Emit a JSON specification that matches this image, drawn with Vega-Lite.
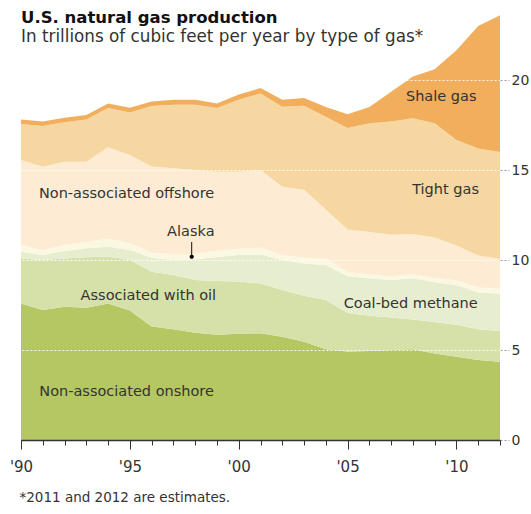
{
  "$schema": "https://vega.github.io/schema/vega-lite/v6.json",
  "width": 479,
  "height": 432,
  "autosize": {"type": "none"},
  "padding": {"left": 21, "top": 8, "right": 31, "bottom": 74},
  "background": "white",
  "title": {
    "text": "U.S. natural gas production",
    "subtitle": "In trillions of cubic feet per year by type of gas*",
    "anchor": "start",
    "frame": "group",
    "offset": -38,
    "font": "DejaVu Sans",
    "fontSize": 16.5,
    "fontWeight": "bold",
    "color": "#111",
    "subtitleFont": "DejaVu Sans",
    "subtitleFontSize": 16.8,
    "subtitleColor": "#333",
    "subtitlePadding": 3
  },
  "datasets": {
    "production": [
      {"year": 1990, "Non-associated onshore": 7.59, "Associated with oil": 2.50, "Coal-bed methane": 0.37, "Alaska": 0.37, "Non-associated offshore": 4.73, "Tight gas": 1.99, "Shale gas": 0.25},
      {"year": 1991, "Non-associated onshore": 7.22, "Associated with oil": 2.78, "Coal-bed methane": 0.28, "Alaska": 0.28, "Non-associated offshore": 4.62, "Tight gas": 2.27, "Shale gas": 0.25},
      {"year": 1992, "Non-associated onshore": 7.40, "Associated with oil": 2.69, "Coal-bed methane": 0.41, "Alaska": 0.33, "Non-associated offshore": 4.63, "Tight gas": 2.19, "Shale gas": 0.25},
      {"year": 1993, "Non-associated onshore": 7.35, "Associated with oil": 2.80, "Coal-bed methane": 0.50, "Alaska": 0.35, "Non-associated offshore": 4.46, "Tight gas": 2.34, "Shale gas": 0.26},
      {"year": 1994, "Non-associated onshore": 7.59, "Associated with oil": 2.61, "Coal-bed methane": 0.54, "Alaska": 0.46, "Non-associated offshore": 5.06, "Tight gas": 2.19, "Shale gas": 0.25},
      {"year": 1995, "Non-associated onshore": 7.20, "Associated with oil": 2.80, "Coal-bed methane": 0.56, "Alaska": 0.37, "Non-associated offshore": 4.90, "Tight gas": 2.37, "Shale gas": 0.26},
      {"year": 1996, "Non-associated onshore": 6.30, "Associated with oil": 3.05, "Coal-bed methane": 0.77, "Alaska": 0.30, "Non-associated offshore": 4.77, "Tight gas": 3.36, "Shale gas": 0.25},
      {"year": 1997, "Non-associated onshore": 6.15, "Associated with oil": 3.02, "Coal-bed methane": 0.83, "Alaska": 0.30, "Non-associated offshore": 4.80, "Tight gas": 3.53, "Shale gas": 0.27},
      {"year": 1998, "Non-associated onshore": 5.96, "Associated with oil": 2.93, "Coal-bed methane": 1.15, "Alaska": 0.31, "Non-associated offshore": 4.65, "Tight gas": 3.63, "Shale gas": 0.27},
      {"year": 1999, "Non-associated onshore": 5.85, "Associated with oil": 2.98, "Coal-bed methane": 1.34, "Alaska": 0.35, "Non-associated offshore": 4.38, "Tight gas": 3.55, "Shale gas": 0.25},
      {"year": 2000, "Non-associated onshore": 5.90, "Associated with oil": 2.90, "Coal-bed methane": 1.48, "Alaska": 0.35, "Non-associated offshore": 4.27, "Tight gas": 4.00, "Shale gas": 0.30},
      {"year": 2001, "Non-associated onshore": 5.93, "Associated with oil": 2.77, "Coal-bed methane": 1.61, "Alaska": 0.38, "Non-associated offshore": 4.31, "Tight gas": 4.25, "Shale gas": 0.30},
      {"year": 2002, "Non-associated onshore": 5.74, "Associated with oil": 2.59, "Coal-bed methane": 1.67, "Alaska": 0.28, "Non-associated offshore": 3.79, "Tight gas": 4.45, "Shale gas": 0.38},
      {"year": 2003, "Non-associated onshore": 5.46, "Associated with oil": 2.56, "Coal-bed methane": 1.79, "Alaska": 0.32, "Non-associated offshore": 3.77, "Tight gas": 4.67, "Shale gas": 0.43},
      {"year": 2004, "Non-associated onshore": 5.04, "Associated with oil": 2.74, "Coal-bed methane": 1.94, "Alaska": 0.37, "Non-associated offshore": 2.71, "Tight gas": 5.16, "Shale gas": 0.54},
      {"year": 2005, "Non-associated onshore": 4.91, "Associated with oil": 2.14, "Coal-bed methane": 2.05, "Alaska": 0.23, "Non-associated offshore": 2.37, "Tight gas": 5.63, "Shale gas": 0.77},
      {"year": 2006, "Non-associated onshore": 4.94, "Associated with oil": 1.96, "Coal-bed methane": 2.08, "Alaska": 0.22, "Non-associated offshore": 2.35, "Tight gas": 6.05, "Shale gas": 0.90},
      {"year": 2007, "Non-associated onshore": 5.00, "Associated with oil": 1.80, "Coal-bed methane": 2.09, "Alaska": 0.21, "Non-associated offshore": 2.30, "Tight gas": 6.30, "Shale gas": 1.65},
      {"year": 2008, "Non-associated onshore": 5.04, "Associated with oil": 1.66, "Coal-bed methane": 2.28, "Alaska": 0.22, "Non-associated offshore": 2.25, "Tight gas": 6.42, "Shale gas": 2.33},
      {"year": 2009, "Non-associated onshore": 4.81, "Associated with oil": 1.74, "Coal-bed methane": 2.21, "Alaska": 0.26, "Non-associated offshore": 2.23, "Tight gas": 6.35, "Shale gas": 3.00},
      {"year": 2010, "Non-associated onshore": 4.63, "Associated with oil": 1.77, "Coal-bed methane": 2.21, "Alaska": 0.27, "Non-associated offshore": 1.92, "Tight gas": 5.87, "Shale gas": 4.98},
      {"year": 2011, "Non-associated onshore": 4.44, "Associated with oil": 1.71, "Coal-bed methane": 2.05, "Alaska": 0.27, "Non-associated offshore": 1.78, "Tight gas": 5.95, "Shale gas": 6.80},
      {"year": 2012, "Non-associated onshore": 4.35, "Associated with oil": 1.70, "Coal-bed methane": 2.07, "Alaska": 0.28, "Non-associated offshore": 1.65, "Tight gas": 5.95, "Shale gas": 7.60}
    ],
    "layers": [
      {"type": "Non-associated onshore", "rank": 1},
      {"type": "Associated with oil", "rank": 2},
      {"type": "Coal-bed methane", "rank": 3},
      {"type": "Alaska", "rank": 4},
      {"type": "Non-associated offshore", "rank": 5},
      {"type": "Tight gas", "rank": 6},
      {"type": "Shale gas", "rank": 7}
    ],
    "labels": [
      {"label": "Shale gas", "year": 2009.3, "value": 19.07},
      {"label": "Tight gas", "year": 2009.5, "value": 13.9},
      {"label": "Non-associated offshore", "year": 1994.85, "value": 13.67},
      {"label": "Alaska", "year": 1997.8, "value": 11.55},
      {"label": "Associated with oil", "year": 1995.85, "value": 8.0},
      {"label": "Coal-bed methane", "year": 2007.9, "value": 7.55},
      {"label": "Non-associated onshore", "year": 1994.85, "value": 2.67}
    ],
    "pointer": [
      {"year": 1997.84, "top": 11.0, "bottom": 10.18}
    ]
  },
  "resolve": {"axis": {"x": "independent", "y": "independent"}},
  "layer": [
    {
      "data": {"name": "production"},
      "transform": [
        {"fold": ["Non-associated onshore", "Associated with oil", "Coal-bed methane", "Alaska", "Non-associated offshore", "Tight gas", "Shale gas"], "as": ["type", "value"]},
        {"lookup": "type", "from": {"data": {"name": "layers"}, "key": "type", "fields": ["rank"]}}
      ],
      "mark": {"type": "area", "interpolate": "linear"},
      "encoding": {
        "x": {
          "field": "year", "type": "quantitative",
          "scale": {"domain": [1990, 2012], "nice": false, "zero": false},
          "axis": {
            "orient": "bottom",
            "values": [1990, 1995, 2000, 2005, 2010],
            "labelExpr": "\"'\" + format(datum.value % 100, '02d')",
            "tickSize": 9,
            "tickColor": "#333",
            "domainColor": "#333",
            "domainWidth": 1.5,
            "labelFont": "DejaVu Sans",
            "labelFontSize": 15,
            "labelColor": "#333",
            "labelFlush": false,
            "labelOverlap": false,
            "labelPadding": 10,
            "grid": false,
            "zindex": 2,
            "title": "*2011 and 2012 are estimates.",
            "titleFont": "DejaVu Sans",
            "titleFontSize": 13.5,
            "titleFontWeight": "normal",
            "titleColor": "#333",
            "titleAnchor": "start",
            "titleAlign": "left",
            "titleBaseline": "alphabetic",
            "titleX": -2,
            "titleY": 61
          }
        },
        "y": {
          "field": "value", "type": "quantitative", "stack": "zero",
          "scale": {"domain": [0, 24], "nice": false},
          "axis": {
            "orient": "right",
            "values": [0, 5, 10, 15, 20],
            "title": null,
            "domain": false,
            "grid": true,
            "gridColor": "white",
            "gridDash": [2, 2],
            "gridWidth": 1.2,
            "gridOpacity": 0.9,
            "tickSize": 9,
            "tickDash": [2, 2],
            "tickColor": "#999",
            "labelFont": "DejaVu Sans",
            "labelFontSize": 14,
            "labelColor": "#333",
            "labelPadding": 2,
            "labelFlush": false,
            "zindex": 1
          }
        },
        "color": {
          "field": "type", "type": "nominal",
          "scale": {
            "domain": ["Non-associated onshore", "Associated with oil", "Coal-bed methane", "Alaska", "Non-associated offshore", "Tight gas", "Shale gas"],
            "range": ["#b5c763", "#d6e1a9", "#e7eecf", "#fbf8e1", "#fdecd3", "#f7d7a1", "#f1ae5c"]
          },
          "legend": null
        },
        "order": {"field": "rank", "type": "quantitative", "sort": "ascending"}
      }
    },
    {
      "data": {"name": "labels"},
      "mark": {"type": "text", "font": "DejaVu Sans", "fontSize": 14.5, "color": "#333", "align": "center", "baseline": "middle"},
      "encoding": {
        "x": {"field": "year", "type": "quantitative", "scale": {"domain": [1990, 2012], "nice": false, "zero": false}, "axis": null},
        "y": {"field": "value", "type": "quantitative", "scale": {"domain": [0, 24], "nice": false}, "axis": null},
        "text": {"field": "label"}
      }
    },
    {
      "data": {"name": "pointer"},
      "mark": {"type": "rule", "color": "#111", "strokeWidth": 1},
      "encoding": {
        "x": {
          "field": "year", "type": "quantitative",
          "scale": {"domain": [1990, 2012], "nice": false, "zero": false},
          "axis": {
            "orient": "bottom",
            "values": [1990, 1991, 1992, 1993, 1994, 1995, 1996, 1997, 1998, 1999, 2000, 2001, 2002, 2003, 2004, 2005, 2006, 2007, 2008, 2009, 2010, 2011, 2012],
            "labels": false,
            "domain": false,
            "grid": false,
            "tickSize": 5,
            "tickColor": "#333",
            "title": null,
            "zindex": 2
          }
        },
        "y": {"field": "top", "type": "quantitative", "scale": {"domain": [0, 24], "nice": false}, "axis": null},
        "y2": {"field": "bottom"}
      }
    },
    {
      "data": {"name": "pointer"},
      "mark": {"type": "point", "filled": true, "color": "#000", "size": 18, "opacity": 1},
      "encoding": {
        "x": {"field": "year", "type": "quantitative", "scale": {"domain": [1990, 2012], "nice": false, "zero": false}, "axis": null},
        "y": {"field": "bottom", "type": "quantitative", "scale": {"domain": [0, 24], "nice": false}, "axis": null}
      }
    }
  ],
  "config": {"view": {"stroke": null}, "font": "DejaVu Sans"}
}
